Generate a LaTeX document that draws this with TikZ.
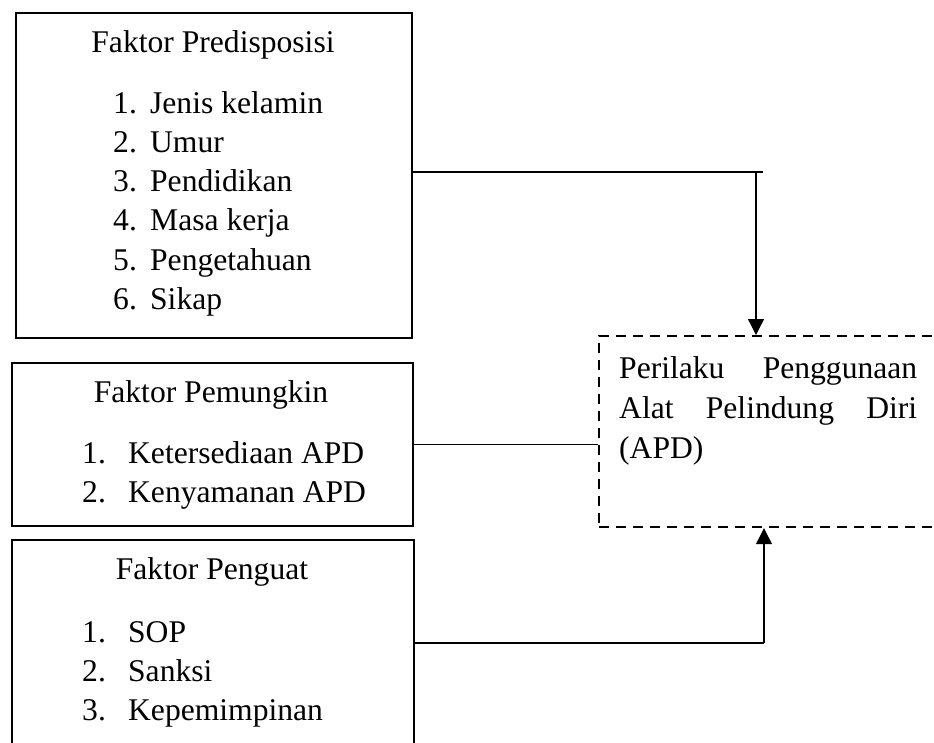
\documentclass[tikz,border=0pt]{standalone}
\usepackage{fontspec}
\setmainfont{Liberation Serif}
\usetikzlibrary{arrows.meta}
\begin{document}
\begin{tikzpicture}[x=1pt,y=-1pt,
  box/.style={draw, line width=2.2pt, inner sep=0pt, anchor=north west},
  dbox/.style={draw, line width=2.2pt, inner sep=0pt, anchor=north west, dash pattern=on 10pt off 7pt},
  txt/.style={inner sep=0pt, font=\fontsize{31.6}{39.5}\selectfont},
  conn/.style={line width=1.3pt},
  arr/.style={line width=1.3pt, -{Triangle[width=16pt,length=16pt]}}]
\clip (0,0) rectangle (934,742);
% boxes
\node[box, minimum width=396pt, minimum height=325pt] (b1) at (15,12) {};
\node[box, minimum width=401pt, minimum height=163pt] (b2) at (11,362) {};
\node[box, minimum width=402pt, minimum height=240pt] (b3) at (11,539) {};
\node[dbox, minimum width=360pt, minimum height=191pt] (apd) at (598,335) {};
% titles
\node[txt, anchor=base] (t1) at (213,52) {Faktor Predisposisi};
\node[txt, anchor=base] (t2) at (211,402) {Faktor Pemungkin};
\node[txt, anchor=base] (t3) at (212,579) {Faktor Penguat};
% lists
\foreach \n/\t [count=\i] in {1/Jenis kelamin,2/Umur,3/Pendidikan,4/Masa kerja,5/Pengetahuan,6/Sikap}
  \node[txt, anchor=base west] (pa\i) at (113,{113+39.3*(\i-1)}) {\makebox[37pt][l]{\n.}\t};
\foreach \n/\t [count=\i] in {1/Ketersediaan APD,2/Kenyamanan APD}
  \node[txt, anchor=base west] (pb\i) at (82,{463+39.3*(\i-1)}) {\makebox[46pt][l]{\n.}\t};
\foreach \n/\t [count=\i] in {1/SOP,2/Sanksi,3/Kepemimpinan}
  \node[txt, anchor=base west] (pc\i) at (82,{642+39.3*(\i-1)}) {\makebox[46pt][l]{\n.}\t};
% dependent variable text
\node[txt, anchor=base west] (apdtxt) at (619,378) {\parbox[t]{298pt}{\fontsize{31.6}{40}\selectfont Perilaku\hfill Penggunaan\\ Alat\hfill Pelindung\hfill Diri\\ (APD)}};
% connectors
\coordinate (k1) at (763,172);
\coordinate (j1) at (756,172);
\draw[conn] (b1.east |- k1) -- (k1);
\draw[arr] (j1) -- (j1 |- apd.north);
\draw[conn] (b2.east) -- (apd.west |- b2.east);
\coordinate (k3) at (764,643);
\draw[conn] (b3.east |- k3) -- (k3);
\draw[arr] (k3) -- (k3 |- apd.south);
\end{tikzpicture}
\end{document}
